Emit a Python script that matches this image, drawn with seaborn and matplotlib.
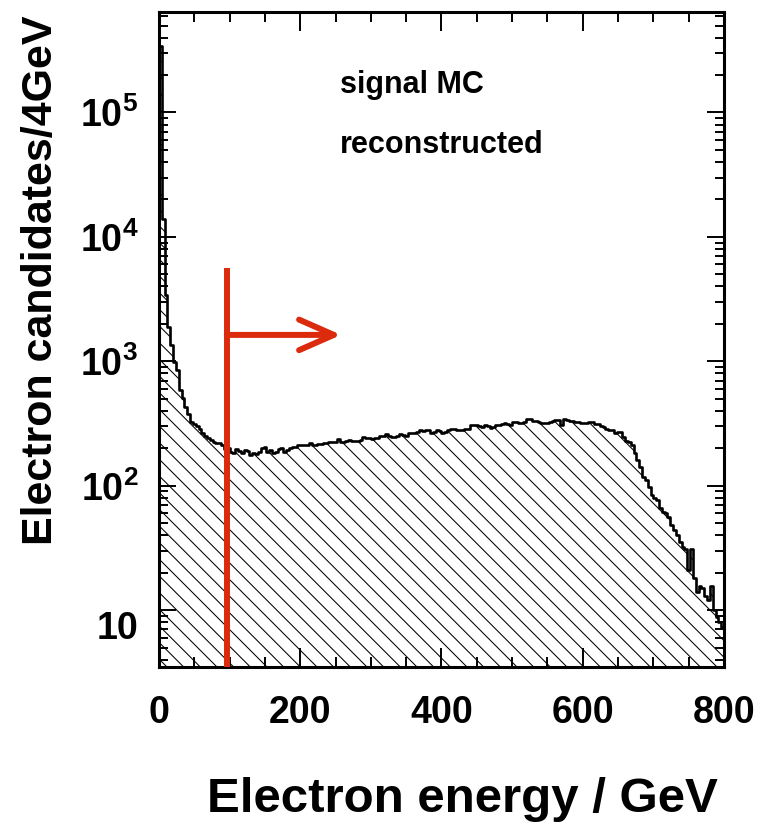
import numpy as np
import pandas as pd
import matplotlib
matplotlib.use("Agg")
import matplotlib.pyplot as plt
import matplotlib.ticker as mticker
import matplotlib.transforms as mtrans
import seaborn as sns

# ---------------- data ----------------
bin_width_gev = 4
energy_min, energy_max = 0, 800

counts_000_049 = [340000, 14000, 3400, 1900, 1350, 990, 850, 590, 505, 430,
                  380, 326, 315, 300, 285, 263, 250, 240, 232, 225,
                  221, 219, 212, 196, 200, 188, 182, 196, 190, 182,
                  193, 190, 177, 182, 180, 188, 200, 206, 188, 193,
                  182, 185, 196, 200, 185, 193, 200, 206, 206, 212]
counts_050_099 = [212, 214, 212, 222, 212, 214, 217, 218, 219, 221,
                  223, 225, 225, 237, 225, 225, 230, 232, 228, 230,
                  228, 232, 245, 240, 240, 238, 242, 244, 250, 252,
                  260, 250, 247, 247, 250, 260, 255, 250, 263, 263,
                  266, 268, 283, 276, 278, 283, 265, 270, 283, 274]
counts_100_149 = [266, 268, 280, 288, 288, 283, 283, 283, 285, 288,
                  307, 307, 305, 300, 296, 307, 300, 290, 296, 310,
                  310, 312, 318, 316, 307, 326, 324, 318, 322, 326,
                  345, 345, 331, 330, 326, 322, 322, 322, 325, 330,
                  336, 336, 307, 341, 338, 331, 331, 328, 326, 322]
counts_150_199 = [320, 320, 326, 324, 312, 315, 300, 297, 288, 282,
                  278, 266, 268, 272, 245, 228, 225, 212, 184, 161,
                  142, 118, 111, 98, 84, 80, 77, 66, 62, 60,
                  56, 48, 44, 40, 35, 32, 31, 21, 31, 18,
                  14, 15.5, 15, 13, 12, 15.5, 10, 8.8, 8, 7.3]

x_ticks = [0, 200, 400, 600, 800]
x_tick_labels = ["0", "200", "400", "600", "800"]
y_ticks = [10, 100, 1000, 10000, 100000]
y_tick_labels = ["10", r"$10^{2}$", r"$10^{3}$", r"$10^{4}$", r"$10^{5}$"]
info_texts = ["signal MC", "reconstructed"]
x_title = "Electron energy / GeV"
y_title = "Electron candidates/4GeV"
cut_energy = 96          # red selection line (GeV)
arrow_end_energy = 258   # tip of the red arrow (GeV)
arrow_level = 1630       # height of the red arrow (counts)
y_limits = (3.49, 6.42e5)

counts = counts_000_049 + counts_050_099 + counts_100_149 + counts_150_199
edges = np.arange(energy_min, energy_max + bin_width_gev, bin_width_gev)
centers = edges[:-1] + bin_width_gev / 2
df = pd.DataFrame({"energy": centers, "count": counts})

# ---------------- style ----------------
sns.set_style("ticks")
plt.rcParams.update({
    "font.family": ["Liberation Sans", "DejaVu Sans"],
    "font.weight": "bold",
    "axes.labelweight": "bold",
    "text.color": "black",
    "axes.labelcolor": "black",
    "axes.edgecolor": "black",
    "xtick.color": "black",
    "ytick.color": "black",
    "xtick.labelcolor": "black",
    "ytick.labelcolor": "black",
    "mathtext.fontset": "custom",
    "mathtext.rm": "Liberation Sans:bold",
    "mathtext.it": "Liberation Sans:bold",
    "mathtext.bf": "Liberation Sans:bold",
    "mathtext.sf": "Liberation Sans:bold",
    "hatch.color": "black",
    "hatch.linewidth": 0.75,
})

red = "#DC2A0C"

fig = plt.figure(figsize=(7.6, 8.22), dpi=100)
ax = fig.add_axes([0.20921, 0.18856, 0.74342, 0.79684])
ax.set_yscale("log")

hist_kws = dict(data=df, x="energy", weights="count", binwidth=bin_width_gev,
                binrange=(energy_min, energy_max), element="step", ax=ax)
# hatched fill
sns.histplot(fill=True, color="black", facecolor="none", edgecolor="black",
             linewidth=0, hatch="\\\\", **hist_kws)
# black outline
sns.histplot(fill=False, color="black", linewidth=1.9, **hist_kws)

ax.set_xlim(energy_min, energy_max)
ax.set_ylim(*y_limits)

# ticks
ax.set_xticks(x_ticks, x_tick_labels)
ax.xaxis.set_minor_locator(mticker.MultipleLocator(50))
ax.set_yticks(y_ticks, y_tick_labels)
ax.yaxis.set_minor_locator(mticker.LogLocator(base=10, subs=np.arange(2, 10), numticks=30))
ax.yaxis.set_minor_formatter(mticker.NullFormatter())
ax.tick_params(which="both", direction="in", top=True, right=True,
               width=1.4, color="black", labelcolor="black")
ax.tick_params(axis="x", which="major", length=14, pad=20, labelsize=27)
ax.tick_params(axis="x", which="minor", length=7)
ax.tick_params(axis="y", which="major", length=12, pad=15, labelsize=27)
ax.tick_params(axis="y", which="minor", length=6.3)
for lab in ax.get_xticklabels() + ax.get_yticklabels():
    lab.set_fontweight("bold")

for sp in ax.spines.values():
    sp.set_visible(True)
    sp.set_linewidth(2.2)
    sp.set_color("black")

# ROOT-like: plain "10" label sits lower than the others
tick10 = ax.yaxis.get_major_ticks()[0]
tick10.label1.set_transform(tick10.label1.get_transform()
                            + mtrans.ScaledTranslation(0, -0.15, fig.dpi_scale_trans))

# axis titles
ax.set_xlabel(x_title, fontsize=35.5, fontweight="bold", ha="right", color="black")
ax.xaxis.set_label_coords(0.9894, -0.168)
ax.set_ylabel(y_title, fontsize=31, fontweight="bold", va="center", color="black")
ax.yaxis.set_label_coords(-0.2088, 0.5908)

# info texts
ax.text(0.3204, 0.8759, info_texts[0], transform=ax.transAxes, fontsize=22,
        fontweight="bold", ha="left", va="baseline", color="black")
ax.text(0.3204, 0.7843, info_texts[1], transform=ax.transAxes, fontsize=22,
        fontweight="bold", ha="left", va="baseline", color="black")

# red cut line and arrow
ax.axvline(cut_energy, ymin=0, ymax=0.609, color=red, lw=4.3,
           solid_capstyle="butt", zorder=5)
ax.annotate("", xy=(arrow_end_energy, arrow_level), xytext=(cut_energy, arrow_level),
            arrowprops=dict(arrowstyle="->,head_length=2.5,head_width=1.1",
                            color=red, lw=4.3, shrinkA=0, shrinkB=0,
                            mutation_scale=10, capstyle="round", joinstyle="round"),
            zorder=5)

fig.savefig("out.png", dpi=100)
